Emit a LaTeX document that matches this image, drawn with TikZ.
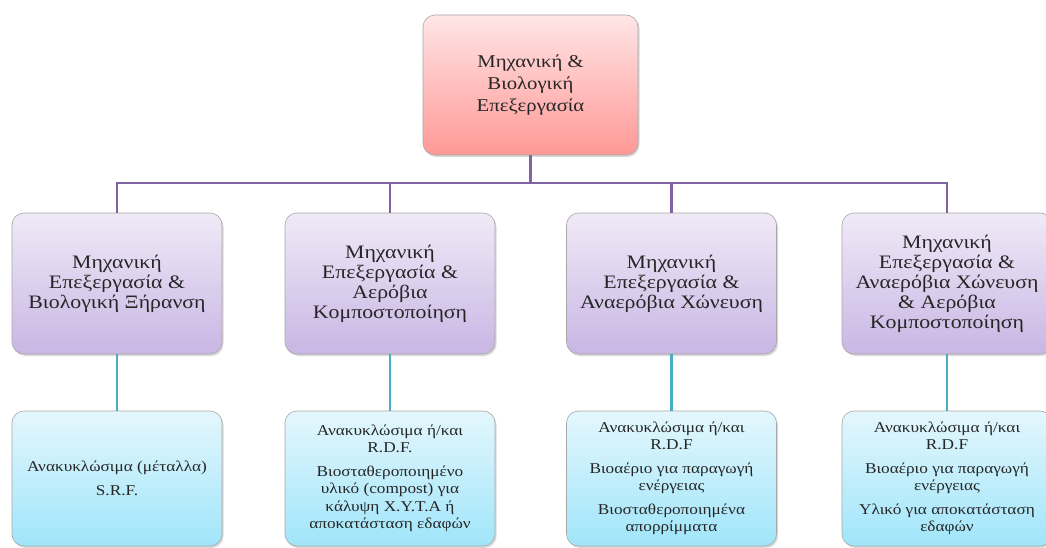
\documentclass[tikz,border=0pt]{standalone}
\usepackage{fontspec}
\setmainfont{Liberation Serif}[FakeStretch=1.15]
\usetikzlibrary{shadows}
\definecolor{busline}{HTML}{8064A2}
\definecolor{leafline}{HTML}{4BACC6}
\definecolor{boxedge}{HTML}{A7A7A7}
\tikzset{
  x=1pt, y=-1pt,
  card/.style={draw=boxedge, line width=0.6pt, rounded corners=12pt,
    align=center, inner sep=4pt, text=black!85,
    drop shadow={shadow xshift=1.5pt, shadow yshift=-2pt, opacity=0.25, fill=black!60}},
  rootbox/.style={card, minimum width=215pt, minimum height=140pt,
    top color=red!10, bottom color=red!40!white!98!orange,
    font=\fontsize{18}{22}\selectfont},
  methodbox/.style={card, minimum width=210pt, minimum height=141pt,
    top color={rgb,255:red,240;green,234;blue,247}, bottom color={rgb,255:red,201;green,182;blue,228},
    font=\fontsize{19}{20}\selectfont},
  outbox/.style={card, minimum width=210pt, minimum height=135pt,
    top color={rgb,255:red,228;green,247;blue,253}, bottom color={rgb,255:red,160;green,229;blue,250},
    font=\fontsize{15}{17.5}\selectfont},
  bus/.style={draw=busline, line width=2.6pt},
  leaf/.style={draw=leafline, line width=2.6pt},
}
\begin{document}
\begin{tikzpicture}
\useasboundingbox (0,0) rectangle (1046,548);

\coordinate (busy) at (0,183);

% root of the hierarchy
\node[rootbox] (root) at (530.5,85) {Μηχανική \&\\Βιολογική\\Επεξεργασία};

% treatment methods
\node[methodbox] (m1) at (117,283.5) {Μηχανική\\Επεξεργασία \&\\Βιολογική Ξήρανση};
\node[methodbox] (m2) at (390,283.5) {Μηχανική\\Επεξεργασία \&\\Αερόβια\\Κομποστοποίηση};
\node[methodbox] (m3) at (671.5,283.5) {Μηχανική\\Επεξεργασία \&\\Αναερόβια Χώνευση};
\node[methodbox] (m4) at (947,283.5) {Μηχανική\\Επεξεργασία \&\\Αναερόβια Χώνευση\\\& Αερόβια\\Κομποστοποίηση};

% products of each method
\node[outbox] (o1) at (117,478.5) {Ανακυκλώσιμα (μέταλλα)\\[7pt]S.R.F.};
\node[outbox] (o2) at (390,478.5) {Ανακυκλώσιμα ή/και\\R.D.F.\\[6pt]Βιοσταθεροποιημένο\\υλικό (compost) για\\κάλυψη Χ.Υ.Τ.Α ή\\αποκατάσταση εδαφών};
\node[outbox] (o3) at (671.5,478.5) {Ανακυκλώσιμα ή/και\\R.D.F\\[6pt]Βιοαέριο για παραγωγή\\ενέργειας\\[6pt]Βιοσταθεροποιημένα\\απορρίμματα};
\node[outbox] (o4) at (947,478.5) {Ανακυκλώσιμα ή/και\\R.D.F\\[6pt]Βιοαέριο για παραγωγή\\ενέργειας\\[6pt]Υλικό για αποκατάσταση\\εδαφών};

% root to the four methods through a common bus
\draw[bus] (root.south) -- (root.south |- busy);
\draw[bus] (m1.north) -- (m1.north |- busy) -- (m4.north |- busy) -- (m4.north);
\draw[bus] (m2.north) -- (m2.north |- busy);
\draw[bus] (m3.north) -- (m3.north |- busy);
% methods to their products
\draw[leaf] (m1.south) -- (o1.north);
\draw[leaf] (m2.south) -- (o2.north);
\draw[leaf] (m3.south) -- (o3.north);
\draw[leaf] (m4.south) -- (o4.north);
\end{tikzpicture}
\end{document}
